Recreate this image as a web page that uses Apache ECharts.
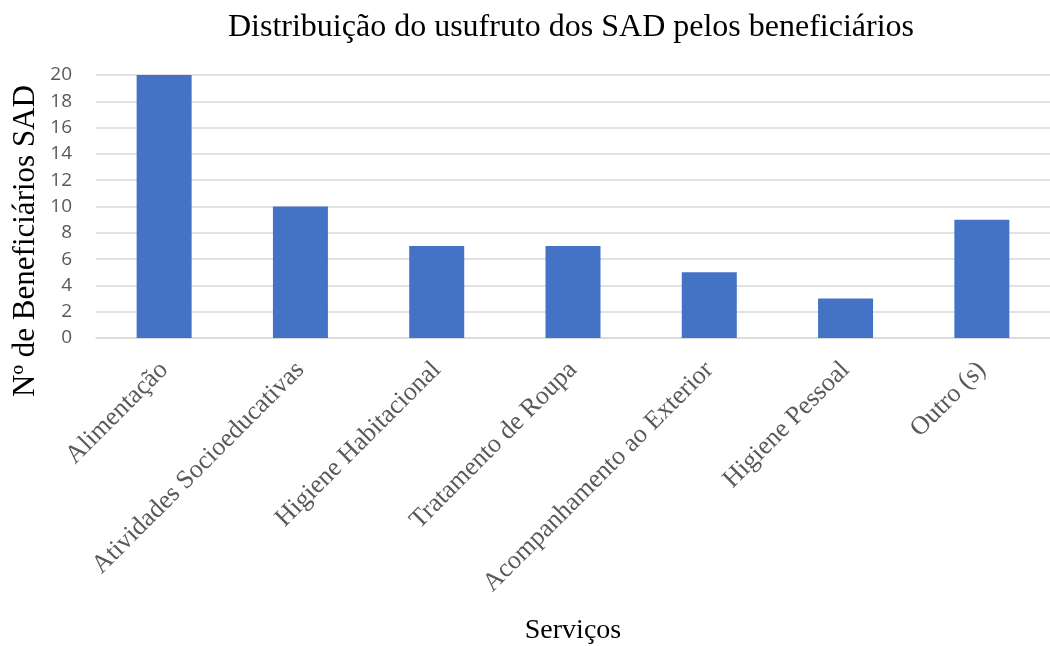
<!DOCTYPE html>
<html>
<head>
<meta charset="utf-8">
<script src="https://cdn.jsdelivr.net/npm/echarts@6/dist/echarts.min.js"></script>
<style>
  html, body { margin: 0; padding: 0; background: #ffffff; }
  #chart { width: 1050px; height: 646px; }
</style>
</head>
<body>
<div id="chart"></div>
<script>
// Services and number of SAD beneficiaries using each
const categories = [
  'Alimentação',
  'Atividades Socioeducativas',
  'Higiene Habitacional',
  'Tratamento de Roupa',
  'Acompanhamento ao Exterior',
  'Higiene Pessoal',
  'Outro (s)'
];
const beneficiarios = [20, 10, 7, 7, 5, 3, 9];
const yTicks = { min: 0, max: 20, interval: 2 };
const yTitle = 'Nº de Beneficiários SAD';

const chart = echarts.init(document.getElementById('chart'));
chart.setOption({
  animation: false,
  title: {
    text: 'Distribuição do usufruto dos SAD pelos beneficiários',
    left: 566,
    textAlign: 'center',
    top: 7,
    textStyle: {
      fontFamily: 'Liberation Serif',
      fontWeight: 'normal',
      fontSize: 32,
      color: '#000000'
    }
  },
  // vertical axis title, centred a little below the plot middle
  graphic: [{
    type: 'text',
    x: 26,
    y: 241,
    rotation: Math.PI / 2,
    style: {
      text: yTitle,
      fontFamily: 'Liberation Serif',
      fontSize: 31,
      fill: '#000000',
      textAlign: 'center',
      textVerticalAlign: 'middle',
      align: 'center',
      verticalAlign: 'middle'
    }
  }],
  grid: {
    left: 96,
    top: 75,
    width: 962,
    height: 265,
    containLabel: false
  },
  xAxis: {
    type: 'category',
    data: categories,
    name: 'Serviços',
    nameLocation: 'middle',
    nameGap: 279,
    nameTextStyle: {
      fontFamily: 'Liberation Serif',
      fontSize: 28,
      color: '#000000'
    },
    axisLine: { show: true, lineStyle: { color: '#d9d9d9', width: 1.5 } },
    axisTick: { show: false },
    axisLabel: {
      rotate: 45,
      interval: 0,
      margin: 28,
      fontFamily: 'Liberation Serif',
      fontSize: 26,
      color: '#595959'
    }
  },
  yAxis: {
    type: 'value',
    min: yTicks.min,
    max: yTicks.max,
    interval: yTicks.interval,
    axisLine: { show: false },
    axisTick: { show: false },
    axisLabel: {
      margin: 24,
      fontFamily: 'Open Sans',
      fontSize: 19,
      color: '#595959'
    },
    splitLine: { lineStyle: { color: '#d9d9d9', width: 1.5 } }
  },
  series: [{
    type: 'bar',
    data: beneficiarios,
    barWidth: 55,
    itemStyle: { color: '#4472c4' }
  }]
});
</script>
</body>
</html>
